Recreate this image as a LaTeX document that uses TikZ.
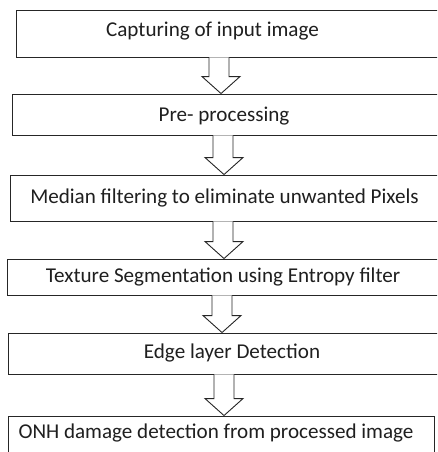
\documentclass[tikz,border=0pt]{standalone}
\usepackage{fontspec}
\setmainfont{Carlito}
\usetikzlibrary{calc}
\tikzset{
  box/.style={draw=black!85, line width=0.9pt, rectangle, inner sep=0pt, fill=white},
  txt/.style={font=\fontsize{21.1}{24}\selectfont, text=black!88, inner sep=0pt},
  blockarr/.style={draw=black!85, line width=0.9pt, fill=white, line join=miter}
}
\newcommand{\mkbox}[5]{% name, left, top, right, bottom
  \node[box, minimum width={(#4-#2)*1pt}, minimum height={(#5-#3)*1pt}] (#1) at ({(#2+#4)/2},{(#3+#5)/2}) {};}
\newcommand{\blockarrow}[4]{% shaft center x, head tip x, from, to
  \draw[blockarr] let \p1=(#3.south), \p2=(#4.north) in
    ({(#1-10)*1pt},\y1) -- ({(#1-10)*1pt},{\y2+17pt}) -- ({(#2-19)*1pt},{\y2+17pt})
    -- ({#2*1pt},\y2) -- ({(#2+19)*1pt},{\y2+17pt}) -- ({(#1+10)*1pt},{\y2+17pt})
    -- ({(#1+10)*1pt},\y1);}
\begin{document}
\begin{tikzpicture}[x=1pt,y=-1pt]
\useasboundingbox (0,0) rectangle (437,452);
\begin{scope}
\clip (0,0) rectangle (437,452);
\mkbox{b1}{16}{10}{460}{57}
\mkbox{b2}{12}{94}{460}{135}
\mkbox{b3}{10}{175}{460}{221}
\mkbox{b4}{7}{259}{460}{295}
\mkbox{b5}{8}{333}{460}{374}
\mkbox{b6}{8}{416}{434}{470}
\blockarrow{219}{221}{b1}{b2}
\blockarrow{223}{224}{b2}{b3}
\blockarrow{223}{224}{b3}{b4}
\blockarrow{222}{222}{b4}{b5}
\blockarrow{224}{224}{b5}{b6}
\node[txt] (t1) at (212.5,31) {Capturing of input image};
\node[txt] (t2) at (224,116) {Pre- processing};
\node[txt] (t3) at (224.5,198) {Median filtering to eliminate unwanted Pixels};
\node[txt] (t4) at (223,277) {Texture Segmentation using Entropy filter};
\node[txt] (t5) at (232,353) {Edge layer Detection};
\node[txt] (t6) at (216,433) {ONH damage detection from processed image};
\end{scope}
\end{tikzpicture}
\end{document}
